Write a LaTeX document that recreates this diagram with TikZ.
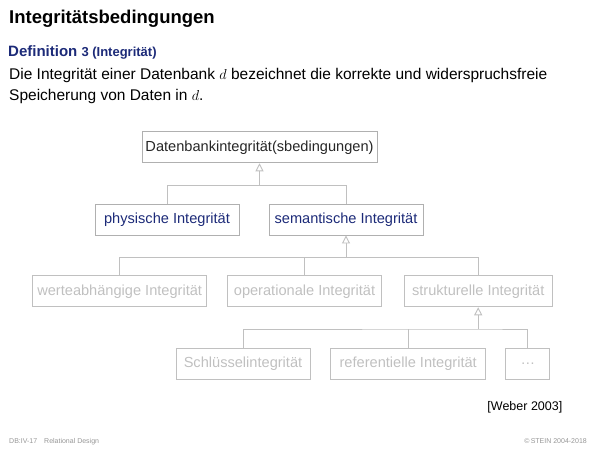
\documentclass[tikz,border=0pt]{standalone}
\usepackage{fontspec}
\setmainfont{Liberation Sans}
\usepackage{tikz}
\usetikzlibrary{arrows.meta, positioning}
\definecolor{defblue}{RGB}{28,42,120}
\definecolor{boxline}{RGB}{176,176,176}
\definecolor{faint}{RGB}{192,192,192}
\definecolor{footgray}{RGB}{150,150,150}

\begin{document}
\begin{tikzpicture}[x=1pt, y=-1pt,
    txt/.style={anchor=base west, inner sep=0pt},
    cls/.style={rectangle, draw=boxline, line width=0.9pt, inner sep=0pt,
                minimum height=31pt, text centered,
                font=\fontsize{14.6}{17}\selectfont, text=black!85},
    clsblue/.style={cls, text=defblue},
    clsgray/.style={cls, draw=faint, text=faint},
    link/.style={draw=faint, line width=0.9pt},
    gen/.style={link, -{Triangle[open, length=8pt, width=8pt, fill=white]}}]

  \useasboundingbox (0,0) rectangle (600,450);

  % heading and definition
  \node[txt, font=\bfseries\fontsize{18.5}{22}\selectfont] (title) at (9,23) {Integritätsbedingungen};
  \node[txt, text=defblue] (defn) at (8,56.7)
    {\bfseries\fontsize{15}{18}\selectfont Definition {\fontsize{13}{15}\selectfont 3 (Integrität)}};
  \node[txt, font=\fontsize{15.5}{18}\selectfont] (body1) at (9,79)
    {Die Integrität einer Datenbank $d$ bezeichnet die korrekte und widerspruchsfreie};
  \node[txt, font=\fontsize{15.5}{18}\selectfont] (body2) at (9,100)
    {Speicherung von Daten in $d$.};

  % hierarchy
  \node[cls, minimum width=235pt]       (dbint)  at (259.5,147.3) {Datenbankintegrität(sbedingungen)};
  \node[clsblue, minimum width=144pt]   (phys)   at (167,219.5)   {physische Integrität};
  \node[clsblue, minimum width=154pt]   (sem)    at (346,219.5)   {semantische Integrität};
  \node[clsgray, minimum width=174pt]   (werte)  at (119.7,291.3) {werteabhängige Integrität};
  \node[clsgray, minimum width=154pt]   (oper)   at (304.5,291.3) {operationale Integrität};
  \node[clsgray, minimum width=148pt]   (strukt) at (478.2,291.3) {strukturelle Integrität};
  \node[clsgray, minimum width=134pt]   (schl)   at (243,363.8)   {Schlüsselintegrität};
  \node[clsgray, minimum width=155pt]   (refint) at (408.2,363.8) {referentielle Integrität};
  \node[clsgray, minimum width=44pt]    (more)   at (527.8,363.8) {\dots};

  \coordinate (j1) at (dbint.south |- 0,185.7);
  \coordinate (j2) at (sem.south |- 0,257.3);
  \coordinate (j3) at (strukt.south |- 0,329);

  \draw[link] (phys.north) |- (j1) -| (sem.north);
  \draw[gen] (j1) -- (dbint.south);

  \draw[link] (werte.north) |- (j2) -| (strukt.north);
  \draw[link] (oper.north) -- (oper.north |- j2);
  \draw[gen] (j2) -- (sem.south);

  \draw[link] (schl.north) |- (j3) -| (more.north);
  \draw[link] (refint.north) -- (refint.north |- j3);
  \draw[gen] (j3) -- (strukt.south);

  % source and footer
  \node[txt, anchor=base east, font=\fontsize{12.5}{15}\selectfont] (src) at (562.5,410) {[Weber 2003]};
  \node[txt, text=footgray, font=\fontsize{7}{8}\selectfont] (footl) at (9,443) {DB:IV-17\quad Relational Design};
  \node[txt, anchor=base east, text=footgray, font=\fontsize{7}{8}\selectfont] (footr) at (587,443) {\textcopyright\,STEIN 2004-2018};
\end{tikzpicture}
\end{document}
